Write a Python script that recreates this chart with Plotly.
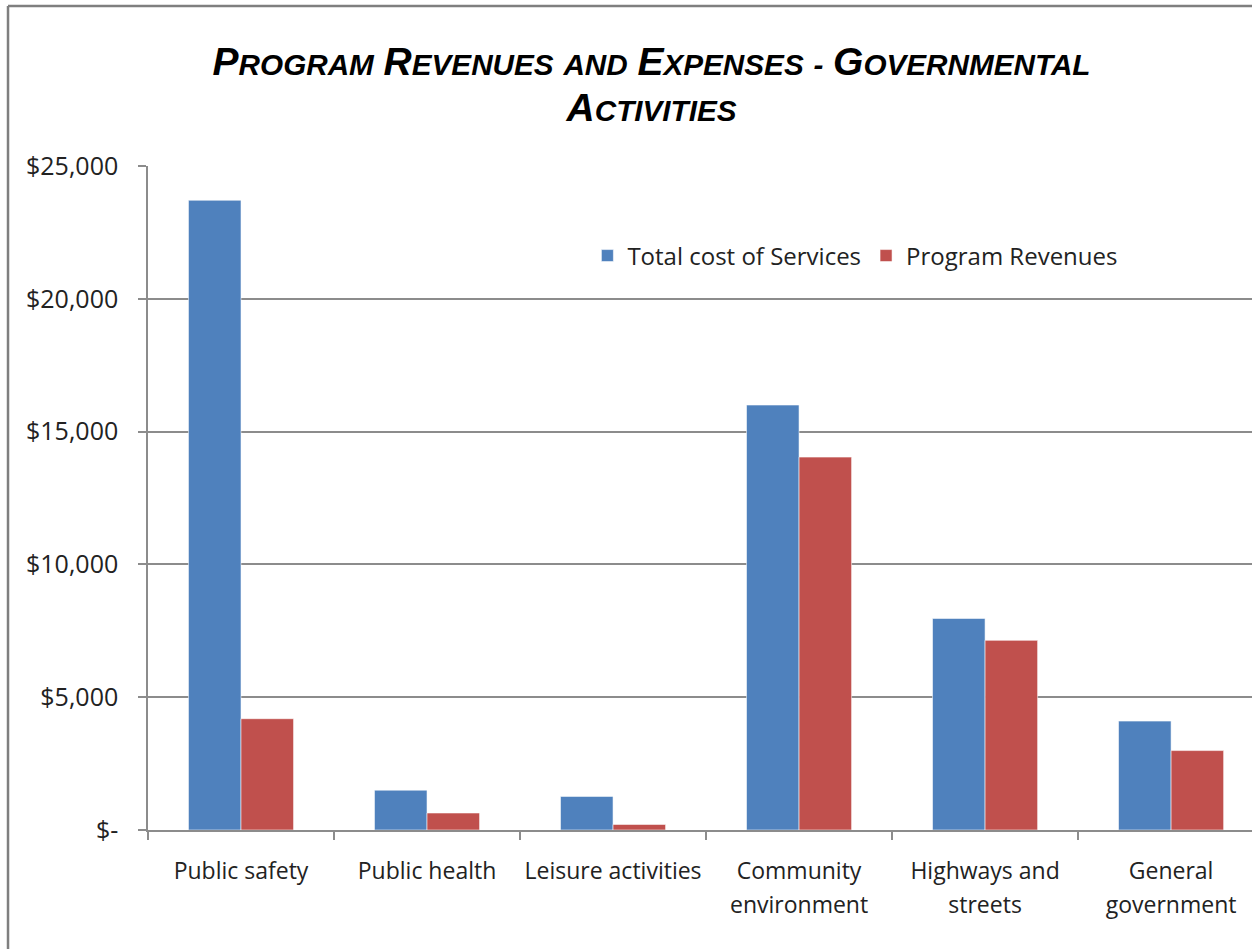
import plotly.graph_objects as go

# Governmental activities: cost of services vs program revenues (in $ thousands)
categories = ["Public safety", "Public health", "Leisure activities",
              "Community environment", "Highways and streets", "General government"]
category_labels = ["Public safety", "Public health", "Leisure activities",
                   "Community<br>environment", "Highways and<br>streets", "General<br>government"]
total_cost = [23710, 1500, 1265, 16000, 7965, 4100]
program_revenues = [4190, 640, 210, 14040, 7140, 2990]

y_tickvals = [0, 5000, 10000, 15000, 20000, 25000]
y_ticktext = ["$-", "$5,000", "$10,000", "$15,000", "$20,000", "$25,000"]

BLUE = "#4F81BD"
RED = "#C0504D"
GRID = "#8c8c8c"
LABEL_FONT = "Open Sans"


def sc(big, rest):
    """Small-caps style word: large initial, smaller remainder."""
    return f"<span style='font-size:39px'>{big}</span><span style='font-size:29.7px'>{rest}</span>"


title_text = ("<b><i>" + sc("P", "ROGRAM") + " " + sc("R", "EVENUES") + " "
              + "<span style='font-size:29.7px'>AND</span> " + sc("E", "XPENSES")
              + " <span style='font-size:29.7px'>-</span> " + sc("G", "OVERNMENTAL")
              + "<br>" + sc("A", "CTIVITIES") + "</i></b>")


def tick_label(s):
    return "<br>".join(f"<span style='font-size:23px'>{part}</span>" for part in s.split("<br>"))


fig = go.Figure()
fig.add_trace(go.Bar(name="Total cost of Services", x=categories, y=total_cost,
                     marker=dict(color=BLUE, line=dict(color="rgba(255,255,255,0.55)", width=1))))
fig.add_trace(go.Bar(name="Program Revenues", x=categories, y=program_revenues,
                     marker=dict(color=RED, line=dict(color="rgba(255,255,255,0.55)", width=1))))

fig.update_layout(
    width=1252, height=949,
    margin=dict(l=148, r=0, t=166, b=119),
    paper_bgcolor="white", plot_bgcolor="white",
    barmode="group", bargap=0.435, bargroupgap=0,
    font=dict(family=LABEL_FONT, size=23, color="#222222"),
    title=dict(text=title_text, x=0.5204, xanchor="center", xref="container",
               y=1 - 75 / 949, yanchor="middle", yref="container",
               font=dict(family="Liberation Sans, Arial", size=35, color="black")),
    legend=dict(orientation="h", x=0.398, xanchor="left", y=0.8645, yanchor="middle",
                bgcolor="rgba(0,0,0,0)", font=dict(size=24, family=LABEL_FONT, color="#222222")),
    showlegend=True,
)

fig.update_xaxes(
    type="category", range=[-0.5, 5.435],
    tickvals=categories, ticktext=[tick_label(s) for s in category_labels],
    tickfont=dict(size=26, family=LABEL_FONT, color="#222222"), tickangle=0,
    ticks="outside", tickson="boundaries", ticklen=8, tickcolor=GRID, tickwidth=1.5,
    showline=True, linecolor=GRID, linewidth=1.5, showgrid=False,
    ticklabelstandoff=16,
)
fig.update_yaxes(
    range=[0, 25000], tickvals=y_tickvals, ticktext=y_ticktext,
    tickfont=dict(size=25, family=LABEL_FONT, color="#222222"),
    ticks="outside", ticklen=8, tickcolor=GRID, tickwidth=1.5,
    showline=True, linecolor=GRID, linewidth=1.5,
    showgrid=True, gridcolor=GRID, gridwidth=1.5, zeroline=False,
    ticklabelstandoff=15,
)

# Chart frame (left and top edges)
fig.add_shape(type="line", xref="paper", yref="paper", x0=-0.1268, x1=-0.1268, y0=-0.2, y1=1.241,
              line=dict(color="#7f7f7f", width=2.5))
fig.add_shape(type="line", xref="paper", yref="paper", x0=-0.1268, x1=1.01, y0=1.241, y1=1.241,
              line=dict(color="#7f7f7f", width=2.5))

fig.write_html("out.html",
               post_script="document.body.style.margin='0';document.body.style.overflow='hidden';")
